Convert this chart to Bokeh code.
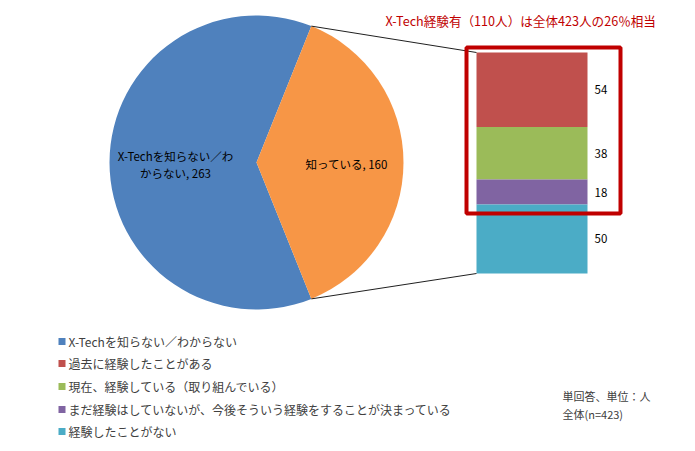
import numpy as np
from bokeh.plotting import figure
from bokeh.models import Range1d
from bokeh.core.properties import value
from bokeh.embed import file_html
from bokeh.resources import INLINE

# ---- data ----
pie_labels = ["X-Techを知らない／わからない", "知っている"]
pie_values = [263, 160]
pie_colors = ["#4F81BD", "#F79646"]

bar_labels = ["過去に経験したことがある",
              "現在、経験している（取り組んでいる）",
              "まだ経験はしていないが、今後そういう経験をすることが決まっている",
              "経験したことがない"]
bar_values = [54, 38, 18, 50]
bar_colors = ["#C0504D", "#9BBB59", "#8064A2", "#4BACC6"]

title_text = "X-Tech経験有（110人）は全体423人の26％相当"
note_lines = ["単回答、単位：人", "全体(n=423)"]

FONT = value("Noto Sans CJK JP")
W, H = 687, 443

p = figure(width=W, height=H, output_backend="svg", toolbar_location=None,
           x_range=Range1d(0, W), y_range=Range1d(0, H),
           x_axis_location=None, y_axis_location=None, min_border=0)
p.outline_line_color = None
p.xgrid.visible = False
p.ygrid.visible = False
p.background_fill_color = "white"

# ---- pie ----
cx, cy, R = 256, 281, 147
total = sum(pie_values)
half = np.pi * pie_values[1] / total
starts = [half, -half]
ends = [2 * np.pi - half, half]
p.wedge(x=[cx, cx], y=[cy, cy], radius=R, start_angle=starts, end_angle=ends,
        fill_color=pie_colors, line_color=None)

# pie labels
p.text(x=[175, 175], y=[288, 271], text=["X-Techを知らない／わ", "からない, 263"],
       text_font=FONT, text_font_size="11.5px", text_align="center",
       text_baseline="middle", text_color="#000000")
p.text(x=[305], y=[280], text=["知っている, 160"], text_font=FONT,
       text_font_size="11.5px", text_align="left", text_baseline="middle",
       text_color="#000000")

# ---- stacked bar ----
bx0, bx1, btop = 476, 587, 391
scale = 221 / sum(bar_values)
cum = np.cumsum([0] + bar_values)
tops = btop - cum[:-1] * scale
bots = btop - cum[1:] * scale
p.quad(left=bx0, right=bx1, top=tops, bottom=bots, fill_color=bar_colors,
       line_color=None)
p.text(x=[594] * 4, y=list((tops + bots) / 2), text=[str(v) for v in bar_values],
       text_font=FONT, text_font_size="11.5px", text_align="left",
       text_baseline="middle", text_color="#000000")

# connectors
p.segment(x0=[cx + R * np.cos(half), cx + R * np.cos(-half)],
          y0=[cy + R * np.sin(half), cy + R * np.sin(-half)],
          x1=[bx0, bx0], y1=[tops[0], bots[-1]], line_color="#202020", line_width=1)

# red highlight box around first three segments
p.quad(left=[bx0 - 10], right=[bx1 + 33], top=[tops[0] + 5], bottom=[bots[2] - 9],
       fill_color=None, line_color="#C00000", line_width=4)

# title
p.text(x=[385], y=[423], text=[title_text], text_font=FONT, text_font_size="12.6px",
       text_align="left", text_baseline="middle", text_color="#C00000")

# ---- legend ----
leg_labels = [pie_labels[0]] + bar_labels
leg_colors = [pie_colors[0]] + bar_colors
leg_y = [H - v for v in (341, 363, 386, 409, 431)]
p.rect(x=[61.5] * 5, y=leg_y, width=7, height=7, fill_color=leg_colors, line_color=None)
p.text(x=[68] * 5, y=leg_y, text=leg_labels, text_font=FONT, text_font_size="12px",
       text_align="left", text_baseline="middle", text_color="#404040")

# note
p.text(x=[562, 562], y=[H - 395, H - 413], text=note_lines, text_font=FONT,
       text_font_size="11px", text_align="left", text_baseline="middle",
       text_color="#404040")

open("out.html", "w").write(file_html(p, INLINE))
